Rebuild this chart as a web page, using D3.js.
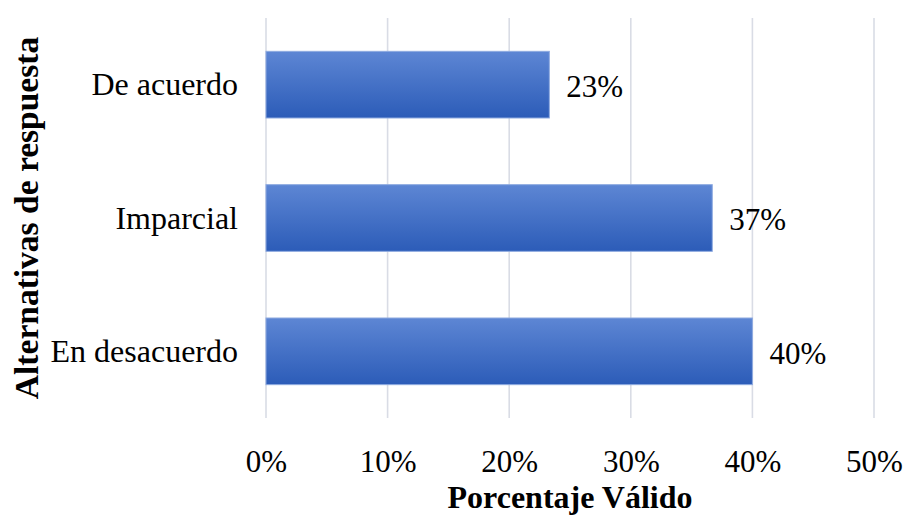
<!DOCTYPE html>
<html>
<head>
<meta charset="utf-8">
<script src="https://cdn.jsdelivr.net/npm/d3@7"></script>
<style>
  html, body { margin: 0; padding: 0; background: #fff; }
  svg text { font-family: "Liberation Serif", "Times New Roman", serif; fill: #000; }
</style>
</head>
<body>
<svg id="chart" width="907" height="516"></svg>
<script>
// Response alternatives and their valid percentage
const categories = ["De acuerdo", "Imparcial", "En desacuerdo"];
const values = [0.233, 0.367, 0.40];
const xTicks = [0, 0.1, 0.2, 0.3, 0.4, 0.5];
const xTitle = "Porcentaje Válido";
const yTitle = "Alternativas de respuesta";

const svg = d3.select("#chart");
const margin = { top: 18, right: 33, bottom: 98, left: 266 };
const W = 907, H = 516;
const innerW = W - margin.left - margin.right;
const innerH = H - margin.top - margin.bottom;

const defs = svg.append("defs");
const grad = defs.append("linearGradient")
  .attr("id", "barGrad").attr("x1", 0).attr("y1", 0).attr("x2", 0).attr("y2", 1);
grad.append("stop").attr("offset", "0%").attr("stop-color", "#5d86d4");
grad.append("stop").attr("offset", "100%").attr("stop-color", "#2c5cb8");

const g = svg.append("g").attr("transform", `translate(${margin.left},${margin.top})`);

const x = d3.scaleLinear().domain([0, 0.5]).range([0, 608]);
const y = d3.scaleBand().domain(categories).range([0, innerH])
  .paddingInner(0.5).paddingOuter(0.25);

// vertical gridlines
g.selectAll("line.grid").data(xTicks).join("line")
  .attr("class", "grid")
  .attr("x1", d => x(d)).attr("x2", d => x(d))
  .attr("y1", 0).attr("y2", innerH)
  .attr("stroke", "#d9dce5").attr("stroke-width", 1.6);

// x tick labels
const xAxis = d3.axisBottom(x).tickValues(xTicks).tickFormat(d3.format(".0%")).tickSize(0).tickPadding(0);
const xa = g.append("g").attr("transform", `translate(0,${innerH})`).call(xAxis);
xa.select(".domain").remove();
xa.selectAll("text")
  .attr("font-size", 31).attr("dy", null).attr("y", 54)
  .style("font-family", "Liberation Serif, serif").attr("fill", "#000");

// y category labels
const yAxis = d3.axisLeft(y).tickSize(0).tickPadding(28);
const ya = g.append("g").call(yAxis);
ya.select(".domain").remove();
ya.selectAll("text")
  .attr("font-size", 32).attr("dy", "0.33em")
  .style("font-family", "Liberation Serif, serif").attr("fill", "#000");

// bars
g.selectAll("rect.bar").data(categories).join("rect")
  .attr("class", "bar")
  .attr("x", x(0))
  .attr("y", d => y(d))
  .attr("width", (d, i) => x(values[i]) - x(0))
  .attr("height", y.bandwidth())
  .attr("fill", "url(#barGrad)")
  .attr("stroke", "#8eaae0").attr("stroke-width", 1);

// value labels
g.selectAll("text.val").data(categories).join("text")
  .attr("class", "val")
  .attr("x", (d, i) => x(values[i]) + 17)
  .attr("y", d => y(d) + y.bandwidth() / 2)
  .attr("dy", "0.4em")
  .attr("font-size", 31)
  .text((d, i) => d3.format(".0%")(values[i]));

// axis titles
svg.append("text")
  .attr("x", margin.left + x(0.25)).attr("y", 508)
  .attr("text-anchor", "middle")
  .attr("font-size", 32).attr("font-weight", "bold")
  .text(xTitle);

svg.append("text")
  .attr("transform", `translate(38,${margin.top + innerH / 2}) rotate(-90)`)
  .attr("text-anchor", "middle")
  .attr("font-size", 33.5).attr("font-weight", "bold")
  .text(yTitle);
</script>
</body>
</html>
